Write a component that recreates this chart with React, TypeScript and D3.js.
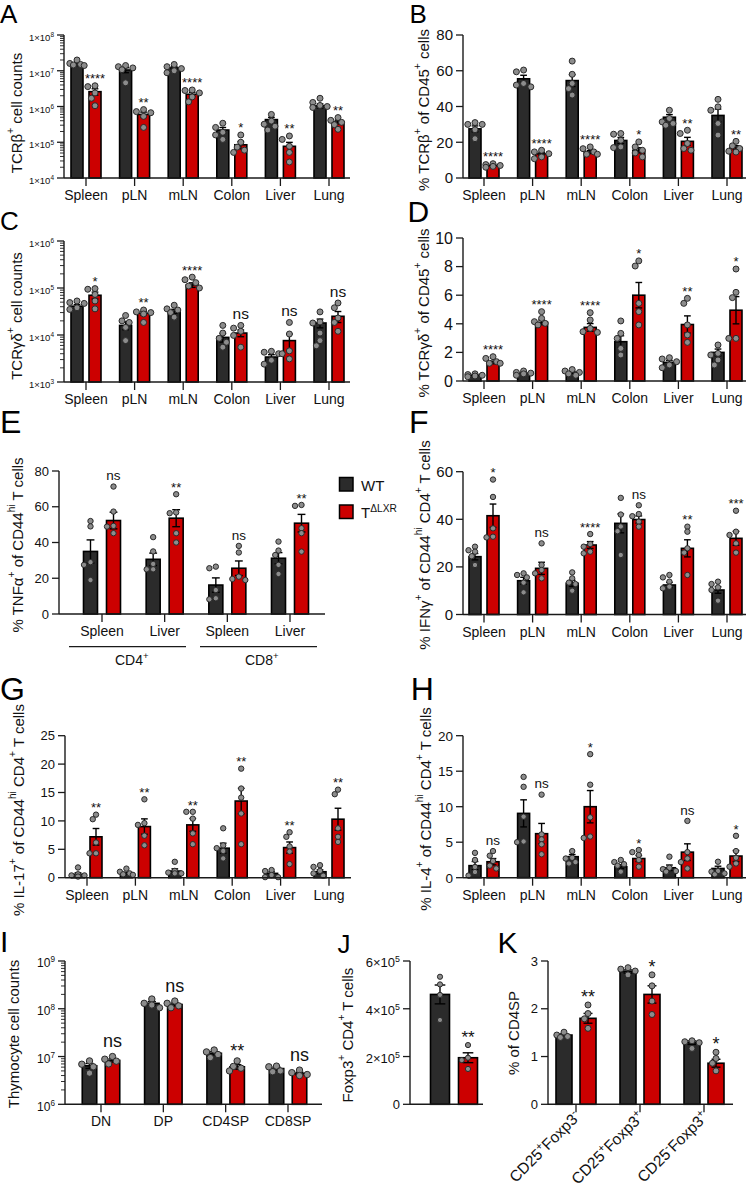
import React from 'react';
import * as d3 from 'd3';

const FONT = '"Liberation Sans", Arial, Helvetica, sans-serif';
const COLORS = {
  wt: '#2b2b2b',
  ko: '#cc0000',
  dot: '#8c8c8c',
  dotStroke: '#2a2a2a',
  axis: '#1a1a1a',
  text: '#111111',
};

// ---------- data ----------
const organs = ['Spleen', 'pLN', 'mLN', 'Colon', 'Liver', 'Lung'];

// A: TCRb+ counts (log)
const aWT = [1.5e7, 1.05e7, 1.2e7, 2.2e5, 4.3e5, 1.05e6];
const aKO = [2.6e6, 6.0e5, 2.2e6, 8.5e4, 7.7e4, 3.7e5];
const aWTDots = [
  [2.0e7, 1.6e7, 1.5e7, 1.45e7, 1.4e7],
  [1.4e7, 1.3e7, 1.2e7, 1.07e7, 4.6e6],
  [1.5e7, 1.3e7, 1.15e7, 1.0e7, 8.8e6],
  [3.4e5, 2.6e5, 1.9e5, 1.6e5, 1.2e5],
  [6.0e5, 3.9e5, 3.2e5, 2.8e5, 2.2e5],
  [1.7e6, 1.3e6, 1.07e6, 1.0e6, 9.4e5],
];
const aKODots = [
  [3.8e6, 3.6e6, 2.4e6, 1.7e6, 1.05e6],
  [8.2e5, 7.2e5, 6.7e5, 5.3e5, 2.6e5],
  [2.9e6, 2.8e6, 2.4e6, 1.85e6, 1.35e6],
  [1.6e5, 1.0e5, 7.3e4, 6.0e4, 5.2e4],
  [1.5e5, 1.2e5, 7.7e4, 5.2e4, 2.8e4],
  [4.9e5, 4.1e5, 3.6e5, 3.1e5, 2.3e5],
];
const aSig = ['****', '**', '****', '*', '**', '**'];

// B: % TCRb+ of CD45+
const bWT = [27.5, 55.5, 54.5, 21, 34, 35];
const bKO = [7, 13.5, 14.5, 15.5, 20.5, 17];
const bWTDots = [
  [31, 30, 30, 27, 22],
  [60.4, 59.4, 52.9, 52, 51],
  [65.4, 58, 52.9, 50, 46.4],
  [24.9, 24.5, 21.1, 17.4, 17],
  [37.9, 33.3, 31.4, 30.5, 29.5],
  [44, 39.8, 37.9, 30.5, 24],
];
const bKODots = [
  [8, 7.5, 7, 6.5, 6],
  [15.5, 14.6, 13.6, 11.8, 10.8],
  [17.4, 16.4, 14.6, 13.3, 13.3],
  [20.2, 17.4, 15.5, 14, 11.8],
  [26.7, 24.9, 19.3, 16.5, 15.5],
  [20.5, 18, 16.5, 15, 14.5],
];
const bSig = ['****', '****', '****', '*', '**', '**'];

// C: TCRgd+ counts (log)
const cWT = [4.1e4, 1.6e4, 3.2e4, 8.9e3, 3.4e3, 1.8e4];
const cKO = [7.0e4, 2.9e4, 1.16e5, 1.1e4, 7.6e3, 2.5e4];
const cWTDots = [
  [5.3e4, 4.9e4, 4.7e4, 3.8e4, 3.5e4],
  [2.6e4, 2.0e4, 1.85e4, 1.45e4, 7.6e3],
  [4.3e4, 3.6e4, 3.4e4, 3.0e4, 2.4e4],
  [1.6e4, 1.1e4, 8.5e3, 7.0e3, 5.5e3],
  [4.5e3, 4.3e3, 4.0e3, 2.9e3, 2.4e3],
  [3.1e4, 1.9e4, 1.8e4, 1.1e4, 7.6e3, 5.9e3],
];
const cKODots = [
  [9.7e4, 9.4e4, 7.3e4, 5.3e4, 3.6e4],
  [3.4e4, 3.1e4, 3.0e4, 2.8e4, 1.85e4],
  [1.7e5, 1.5e5, 1.3e5, 1.1e5, 1.0e5],
  [1.6e4, 1.4e4, 1.2e4, 9.8e3, 5.5e3],
  [1.85e4, 1.05e4, 4.6e3, 4.0e3, 3.1e3],
  [4.8e4, 3.8e4, 2.3e4, 1.85e4, 1.2e4],
];
const cSig = ['*', '**', '****', 'ns', 'ns', 'ns'];

// D: % TCRgd+ of CD45+
const dWT = [0.4, 0.55, 0.6, 2.75, 1.3, 2.0];
const dKO = [1.3, 4.1, 3.75, 6.0, 3.95, 4.95];
const dWTDots = [
  [0.5, 0.45, 0.4, 0.35, 0.3],
  [0.7, 0.6, 0.55, 0.5, 0.4],
  [0.8, 0.7, 0.6, 0.5, 0.4],
  [4.2, 3.33, 2.98, 2.28, 1.82],
  [1.63, 1.54, 1.35, 1.12, 0.93],
  [2.52, 1.93, 1.82, 1.47, 1.12],
];
const dKODots = [
  [1.7, 1.58, 1.35, 1.24, 1.24],
  [4.85, 4.38, 4.15, 4.03, 3.92],
  [4.78, 4.27, 3.68, 3.45, 3.4],
  [8.4, 8.04, 5.43, 4.85, 3.92],
  [5.78, 5.43, 3.92, 3.22, 2.7],
  [7.83, 6.2, 5.83, 2.98, 2.98],
];
const dSig = ['****', '****', '****', '*', '**', '*'];

// E: % TNFa+ of CD44hi T cells
const eLabels = ['Spleen', 'Liver', 'Spleen', 'Liver'];
const eGroups = ['CD4^{+}', 'CD8^{+}'];
const eWT = [35, 30.6, 16.2, 31.2];
const eKO = [52.3, 53.6, 25.6, 50.8];
const eWTDots = [
  [52, 49, 29, 27.5, 19],
  [43, 35, 28, 25, 25],
  [26.5, 25.6, 13.4, 8.8, 8.2],
  [40.5, 35.5, 33, 27.5, 22.4],
];
const eKODots = [
  [71.3, 57.3, 49.3, 48.9, 45.2],
  [67, 56.8, 56.4, 45.2, 40],
  [38.1, 34.4, 20.9, 19.6, 19],
  [61, 60.5, 48, 45.2, 34.9],
];
const eSig = ['ns', '**', 'ns', '**'];

// F: % IFNg+ of CD44hi CD4+
const fWT = [24.3, 14.2, 13.1, 38.3, 12.4, 10.3];
const fKO = [41.5, 19.4, 29.2, 39.9, 27.8, 32];
const fWTDots = [
  [28.5, 27, 26.4, 24.5, 20.8],
  [17.3, 16.6, 15.6, 13.4, 9.3],
  [17.7, 15.2, 13.4, 12.8, 10],
  [49, 42, 37, 35, 25],
  [16.6, 15.6, 13.8, 11.7, 11],
  [13.8, 12.8, 11.4, 10.3, 5.8],
];
const fKODots = [
  [56.7, 49.4, 36.2, 32.7, 32.4],
  [29.9, 20.8, 18.7, 17.3, 15.2],
  [33.8, 29.6, 28.5, 26.4, 25.7],
  [45.9, 42.2, 41.3, 39, 36.9],
  [36.9, 34.8, 27.8, 26, 16.6],
  [43.6, 34.8, 33.4, 29.9, 26],
];
const fSig = ['*', 'ns', '****', 'ns', '**', '***'];

// G: % IL-17+ of CD44hi CD4+
const gWT = [0.6, 0.76, 1.17, 5.2, 0.76, 1.05];
const gKO = [7.2, 9.0, 9.3, 13.5, 5.3, 10.3];
const gWTDots = [
  [1.8, 0.6, 0.4, 0.4, 0.2],
  [1.6, 1.05, 0.76, 0.6, 0.5],
  [2.8, 1.2, 0.9, 0.76, 0.76],
  [8.7, 5.7, 5.2, 4.7, 3.4],
  [1.35, 1.17, 0.47, 0.1, 0.1],
  [2.2, 1.9, 1.2, 0.76, 0.35],
];
const gKODots = [
  [11.1, 10.3, 6.2, 4.3, 4.3],
  [13.8, 9.6, 9.3, 7.4, 5.7],
  [11.6, 11.6, 10.4, 7.8, 5.9],
  [19.2, 15.7, 14.1, 11.3, 5.9],
  [8, 7.2, 5.5, 4.6, 2.4],
  [15.5, 14.7, 8.7, 7.2, 6.3],
];
const gSig = ['**', '**', '**', '**', '**', '**'];

// H: % IL-4+ of CD44hi CD4+
const hWT = [1.7, 9.06, 2.96, 1.55, 1.4, 1.3];
const hKO = [2.25, 6.2, 10, 2.7, 3.6, 3.05];
const hWTDots = [
  [3.5, 2.5, 1.5, 0.8, 0.3],
  [14.2, 12.8, 8.6, 5.1, 5],
  [3.75, 2.8, 2.7, 2.2, 2],
  [2.5, 2.2, 1.9, 1.7, 0.85],
  [2.96, 1.4, 1.2, 0.94, 0.85],
  [2.25, 0.94, 0.85, 0.6, 0.47],
];
const hKODots = [
  [3.75, 3.1, 2.35, 1.7, 1.3],
  [11.7, 6.1, 5.4, 4.7, 3.3],
  [17.4, 13.1, 8.5, 5.8, 5.6],
  [3.9, 3.6, 3.2, 2.5, 1.55],
  [8, 3.6, 2.7, 2.2, 1.3],
  [5.9, 3.75, 2.8, 2, 1.55],
];
const hSig = ['ns', 'ns', '*', '*', 'ns', '*'];

// I: thymocyte counts (log)
const iCats = ['DN', 'DP', 'CD4SP', 'CD8SP'];
const iWT = [6.4e6, 1.3e8, 1.17e7, 5.6e6];
const iKO = [8.3e6, 1.23e8, 6.1e6, 4.4e6];
const iWTDots = [
  [8.1e6, 6.9e6, 6.1e6, 4.5e6],
  [1.6e8, 1.3e8, 1.2e8, 1.05e8],
  [1.37e7, 1.25e7, 1.1e7, 9.5e6],
  [6.3e6, 6.1e6, 5.0e6, 4.8e6],
];
const iKODots = [
  [1.0e7, 8.8e6, 8.0e6, 7.0e6],
  [1.45e8, 1.3e8, 1.15e8, 1.05e8],
  [8.1e6, 6.2e6, 5.7e6, 5.0e6],
  [5.2e6, 4.6e6, 4.2e6, 4.0e6],
];
const iSig = ['ns', 'ns', '**', 'ns'];

// J: Foxp3+ CD4+ T cells
const jWT = [4.6e5];
const jKO = [1.95e5];
const jWTDots = [[5.34e5, 5.02e5, 4.58e5, 3.53e5]];
const jKODots = [[2.48e5, 1.95e5, 1.85e5, 1.48e5]];
const jSig = ['**'];

// K: % of CD4SP
const kCats = ['CD25^{+}Foxp3^{-}', 'CD25^{+}Foxp3^{+}', 'CD25^{-}Foxp3^{+}'];
const kWT = [1.45, 2.78, 1.29];
const kKO = [1.8, 2.3, 0.86];
const kWTDots = [
  [1.51, 1.45, 1.42, 1.4],
  [2.86, 2.83, 2.79, 2.71],
  [1.33, 1.31, 1.29, 1.17],
];
const kKODots = [
  [2.08, 1.9, 1.79, 1.59],
  [2.71, 2.48, 2.16, 1.88],
  [1.09, 0.96, 0.86, 0.7],
];
const kSig = ['**', '*', '*'];

const legendItems = [
  { label: 'WT', color: COLORS.wt },
  { label: 'T^{ΔLXR}', color: COLORS.ko },
];

// ---------- helpers ----------
function Rich({ text, x, y, fs, anchor = 'start', rotate, baseline, fill = COLORS.text }: any) {
  const parts: string[] = text.split(/\^\{([^}]*)\}/);
  const shift = fs * 0.4;
  let cur = 0;
  const spans: any[] = [];
  parts.forEach((p, i) => {
    if (!p) return;
    const sup = i % 2 === 1;
    const target = sup ? -shift : 0;
    spans.push(
      <tspan key={i} dy={target - cur} fontSize={sup ? fs * 0.68 : fs}>{p}</tspan>
    );
    cur = target;
  });
  return (
    <text
      x={x} y={y} fontSize={fs} textAnchor={anchor} fill={fill} fontFamily={FONT}
      dominantBaseline={baseline}
      transform={rotate != null ? `rotate(${rotate} ${x} ${y})` : undefined}
    >{spans}</text>
  );
}

// simple greedy beeswarm, returns x offsets
function swarm(ys: number[], r: number): number[] {
  const order = d3.range(ys.length).sort((a, b) => ys[a] - ys[b]);
  const s = r * 1.2;
  const cands = [0, -s, s, -2 * s, 2 * s];
  const placed: { x: number; y: number }[] = [];
  const xs = new Array(ys.length).fill(0);
  for (const i of order) {
    let best = 0, bestOv = Infinity;
    for (const c of cands) {
      let ov = 0;
      for (const p of placed) {
        const d = Math.hypot(p.x - c, p.y - ys[i]);
        if (d < 2 * r * 0.92) ov += 2 * r - d;
      }
      if (ov < bestOv - 1e-6) { bestOv = ov; best = c; }
      if (ov === 0) break;
    }
    xs[i] = best;
    placed.push({ x: best, y: ys[i] });
  }
  return xs;
}

type PanelProps = {
  x0: number; x1: number; yTop: number; yBot: number;
  log?: boolean; domain: [number, number]; ticks: number[];
  fmt: (v: number) => string; tickFont: number; supTick?: boolean;
  centers: [number, number]; cats?: string[]; catTicks?: boolean;
  wt: number[]; ko: number[]; wtDots: number[][]; koDots: number[][]; sig: string[];
  barW: number; off: number; r: number;
  starFont: number; nsFont: number; gap: number;
  ylabel: string; ylx: number; yly: number;
};

function Panel(p: PanelProps) {
  const y: any = p.log
    ? d3.scaleLog().domain(p.domain).range([p.yBot, p.yTop])
    : d3.scaleLinear().domain(p.domain).range([p.yBot, p.yTop]);
  const x = d3.scalePoint<number>().domain(d3.range(p.wt.length)).range(p.centers);

  const minor: number[] = [];
  if (p.log) {
    const k0 = Math.round(Math.log10(p.domain[0]));
    const k1 = Math.round(Math.log10(p.domain[1]));
    for (let k = k0; k < k1; k++) for (let m = 2; m <= 9; m++) minor.push(m * Math.pow(10, k));
  }

  const groups = [
    { vals: p.wt, dots: p.wtDots, dx: -p.off, fill: COLORS.wt },
    { vals: p.ko, dots: p.koDots, dx: p.off, fill: COLORS.ko },
  ];

  const clampY = (v: number) => y(Math.max(v, p.domain[0]));

  return (
    <g fontFamily={FONT}>
      {/* bars + error bars + dots */}
      {groups.map((gr, gi) =>
        gr.vals.map((v, i) => {
          const cx = (x(i) as number) + gr.dx;
          const ds = gr.dots[i];
          const sem = (d3.deviation(ds) || 0) / Math.sqrt(ds.length);
          const yb = y(v);
          const ys = ds.map((d) => y(d));
          const xs = swarm(ys, p.r);
          const cap = p.barW * 0.28;
          return (
            <g key={`${gi}-${i}`}>
              <rect x={cx - p.barW / 2} y={yb} width={p.barW} height={p.yBot - yb}
                fill={gr.fill} stroke="#000" strokeWidth={1.6} />
              <line x1={cx} x2={cx} y1={clampY(v - sem)} y2={y(v + sem)} stroke="#000" strokeWidth={1.4} />
              <line x1={cx - cap} x2={cx + cap} y1={y(v + sem)} y2={y(v + sem)} stroke="#000" strokeWidth={1.4} />
              {v - sem > p.domain[0] && (
                <line x1={cx - cap} x2={cx + cap} y1={y(v - sem)} y2={y(v - sem)} stroke="#000" strokeWidth={1.4} />
              )}
              {ds.map((d, j) => (
                <circle key={j} cx={cx + xs[j]} cy={ys[j]} r={p.r}
                  fill={COLORS.dot} stroke={COLORS.dotStroke} strokeWidth={1} />
              ))}
            </g>
          );
        })
      )}

      {/* significance */}
      {p.ko.map((v, i) => {
        const ds = p.koDots[i];
        const sem = (d3.deviation(ds) || 0) / Math.sqrt(ds.length);
        const top = Math.min(y(d3.max(ds) as number) - p.r, y(v + sem));
        const isNs = p.sig[i] === 'ns';
        const fs = isNs ? p.nsFont : p.starFont;
        const cy = top - p.gap;
        const by = cy + (isNs ? 0.26 : 0.57) * fs;
        return (
          <text key={i} x={(x(i) as number) + p.off} y={by} fontSize={fs}
            textAnchor="middle" fill={COLORS.text}>{p.sig[i]}</text>
        );
      })}

      {/* y axis */}
      <line x1={p.x0} x2={p.x0} y1={p.yTop} y2={p.yBot} stroke={COLORS.axis} strokeWidth={1.4} />
      {p.ticks.map((t) => (
        <line key={t} x1={p.x0 - 7} x2={p.x0} y1={y(t)} y2={y(t)} stroke={COLORS.axis} strokeWidth={1.3} />
      ))}
      {minor.map((t) => (
        <line key={t} x1={p.x0 - 4} x2={p.x0} y1={y(t)} y2={y(t)} stroke={COLORS.axis} strokeWidth={0.9} />
      ))}
      {p.ticks.map((t) => (
        <Rich key={t} text={p.fmt(t)} x={p.x0 - 10}
          y={y(t) + (p.supTick && t !== 0 ? 6.2 : 0.36 * p.tickFont)}
          fs={p.tickFont} anchor="end" />
      ))}

      {/* x axis */}
      <line x1={p.x0} x2={p.x1} y1={p.yBot} y2={p.yBot} stroke={COLORS.axis} strokeWidth={1.4} />
      {p.catTicks !== false && p.wt.map((_, i) => (
        <line key={i} x1={x(i)} x2={x(i)} y1={p.yBot} y2={p.yBot + 8} stroke={COLORS.axis} strokeWidth={1.3} />
      ))}
      {p.cats && p.cats.map((c, i) => (
        <text key={i} x={x(i)} y={p.yBot + 22} fontSize={14} textAnchor="middle" fill={COLORS.text}>{c}</text>
      ))}

      <Rich text={p.ylabel} x={p.ylx} y={p.yly} fs={15} anchor="middle" rotate={-90} baseline="central" />
    </g>
  );
}

const linFmt = (v: number) => String(v);
const sciFmt = (v: number) => `1×10^{${Math.round(Math.log10(v))}}`;
const powFmt = (v: number) => `10^{${Math.round(Math.log10(v))}}`;
const jFmt = (v: number) => (v === 0 ? '0' : `${v / 1e5}×10^{5}`);

const letters = [
  { t: 'A', x: 0, y: 23.3, fs: 26 },
  { t: 'B', x: 409.5, y: 23.3, fs: 26 },
  { t: 'C', x: 0, y: 230, fs: 26 },
  { t: 'D', x: 407.6, y: 221.7, fs: 30 },
  { t: 'E', x: 0, y: 432.7, fs: 32 },
  { t: 'F', x: 409, y: 432.7, fs: 32 },
  { t: 'G', x: 0, y: 700, fs: 32 },
  { t: 'H', x: 410.8, y: 700, fs: 32 },
  { t: 'I', x: 0, y: 951.7, fs: 30 },
  { t: 'J', x: 337.5, y: 953.3, fs: 26 },
  { t: 'K', x: 497.6, y: 953.3, fs: 30 },
];

export default function App() {
  const common = { r: 3, barW: 12, off: 9, starFont: 13, nsFont: 15.5, gap: 7 };
  const mid = { r: 2.7, barW: 12, off: 9, starFont: 13, nsFont: 13.5, gap: 7 };
  return (
    <svg width={750} height={1195} style={{ position: 'absolute', left: 0, top: 0, background: '#fff' }}
      fontFamily={FONT}>
      <rect width={750} height={1195} fill="#fff" />

      {letters.map((l) => (
        <text key={l.t} x={l.x} y={l.y} fontSize={l.fs} fill="#000">{l.t}</text>
      ))}

      {/* A */}
      <Panel {...common} x0={64} x1={350} yTop={35} yBot={178} log domain={[1e4, 1e8]}
        ticks={[1e4, 1e5, 1e6, 1e7, 1e8]} fmt={sciFmt} tickFont={9.5} supTick
        centers={[86, 329]} cats={organs} wt={aWT} ko={aKO} wtDots={aWTDots} koDots={aKODots} sig={aSig}
        ylabel="TCRβ^{+} cell counts" ylx={16} yly={113} />
      {/* B */}
      <Panel {...common} x0={463} x1={746} yTop={35} yBot={178} domain={[0, 80]}
        ticks={[0, 20, 40, 60, 80]} fmt={linFmt} tickFont={15}
        centers={[484, 727]} cats={organs} wt={bWT} ko={bKO} wtDots={bWTDots} koDots={bKODots} sig={bSig}
        ylabel="% TCRβ^{+} of CD45^{+} cells" ylx={422.5} yly={110} />
      {/* C */}
      <Panel {...common} x0={64} x1={350} yTop={241} yBot={382} log domain={[1e3, 1e6]}
        ticks={[1e3, 1e4, 1e5, 1e6]} fmt={sciFmt} tickFont={9.5} supTick
        centers={[86, 329]} cats={organs} wt={cWT} ko={cKO} wtDots={cWTDots} koDots={cKODots} sig={cSig}
        ylabel="TCRγδ^{+} cell counts" ylx={16} yly={316} />
      {/* D */}
      <Panel {...common} x0={463} x1={746} yTop={238} yBot={381} domain={[0, 10]}
        ticks={[0, 2, 4, 6, 8, 10]} fmt={linFmt} tickFont={16}
        centers={[484, 727]} cats={organs} wt={dWT} ko={dKO} wtDots={dWTDots} koDots={dKODots} sig={dSig}
        ylabel="% TCRγδ^{+} of CD45^{+} cells" ylx={422.5} yly={313} />
      {/* E */}
      <Panel {...mid} barW={14} off={11.5} x0={59} x1={325} yTop={471} yBot={614} domain={[0, 80]}
        ticks={[0, 20, 40, 60, 80]} fmt={linFmt} tickFont={13}
        centers={[102, 290]} cats={eLabels} wt={eWT} ko={eKO} wtDots={eWTDots} koDots={eKODots} sig={eSig}
        ylabel="% TNFα^{+} of CD44^{hi} T cells" ylx={17} yly={545} />
      <line x1={69} x2={186} y1={646.7} y2={646.7} stroke={COLORS.axis} strokeWidth={1.2} />
      <line x1={200} x2={317} y1={646.7} y2={646.7} stroke={COLORS.axis} strokeWidth={1.2} />
      {eGroups.map((g, i) => (
        <Rich key={g} text={g} x={[131.7, 261.7][i]} y={665} fs={14} anchor="middle" />
      ))}
      {legendItems.map((it, i) => (
        <g key={it.label}>
          <rect x={339.5} y={477.5 + i * 27.5} width={13.5} height={13.5} fill={it.color} stroke="#000" strokeWidth={1.5} />
          <Rich text={it.label} x={361} y={490.5 + i * 27.5} fs={15} />
        </g>
      ))}
      {/* F */}
      <Panel {...mid} x0={463} x1={746} yTop={471.7} yBot={614.5} domain={[0, 60]}
        ticks={[0, 20, 40, 60]} fmt={linFmt} tickFont={15}
        centers={[484, 727]} cats={organs} wt={fWT} ko={fKO} wtDots={fWTDots} koDots={fKODots} sig={fSig}
        ylabel="% IFNγ^{+} of CD44^{hi} CD4^{+} T cells" ylx={424} yly={545} />
      {/* G */}
      <Panel {...mid} x0={65} x1={351} yTop={735.7} yBot={877.7} domain={[0, 25]}
        ticks={[0, 5, 10, 15, 20, 25]} fmt={linFmt} tickFont={13}
        centers={[87, 329]} cats={organs} wt={gWT} ko={gKO} wtDots={gWTDots} koDots={gKODots} sig={gSig}
        ylabel="% IL-17^{+} of CD44^{hi} CD4^{+} T cells" ylx={18} yly={810} />
      {/* H */}
      <Panel {...mid} x0={463} x1={746} yTop={735.7} yBot={877.7} domain={[0, 20]}
        ticks={[0, 5, 10, 15, 20]} fmt={linFmt} tickFont={13.5}
        centers={[484, 727]} cats={organs} wt={hWT} ko={hKO} wtDots={hWTDots} koDots={hKODots} sig={hSig}
        ylabel="% IL-4^{+} of CD44^{hi} CD4^{+} T cells" ylx={425} yly={809} />
      {/* I */}
      <Panel r={3.2} barW={14.5} off={11.5} starFont={18} nsFont={18} gap={11}
        x0={65} x1={322} yTop={961} yBot={1104.3} log domain={[1e6, 1e9]}
        ticks={[1e6, 1e7, 1e8, 1e9]} fmt={powFmt} tickFont={12} supTick
        centers={[101, 288]} cats={iCats} wt={iWT} ko={iKO} wtDots={iWTDots} koDots={iKODots} sig={iSig}
        ylabel="Thymocyte cell counts" ylx={13} yly={1034} />
      {/* J */}
      <Panel r={2.6} barW={19} off={14} starFont={17} nsFont={17} gap={9}
        x0={410} x1={483} yTop={961} yBot={1104.3} domain={[0, 6e5]}
        ticks={[0, 2e5, 4e5, 6e5]} fmt={jFmt} tickFont={13} supTick catTicks={false}
        centers={[454, 454]} wt={jWT} ko={jKO} wtDots={jWTDots} koDots={jKODots} sig={jSig}
        ylabel="Foxp3^{+} CD4^{+} T cells" ylx={346.5} yly={1035} />
      {/* K */}
      <Panel r={3} barW={16} off={12} starFont={18} nsFont={18} gap={9}
        x0={548} x1={733} yTop={961} yBot={1104.3} domain={[0, 3]}
        ticks={[0, 1, 2, 3]} fmt={linFmt} tickFont={13}
        centers={[576, 704]} wt={kWT} ko={kKO} wtDots={kWTDots} koDots={kKODots} sig={kSig}
        ylabel="% of CD4SP" ylx={513} yly={1033} />
      {kCats.map((c, i) => {
        const tx = 576 + i * 64 + 5;
        return <Rich key={c} text={c} x={tx} y={1118} fs={15.5} anchor="end" rotate={-45} />;
      })}
    </svg>
  );
}
